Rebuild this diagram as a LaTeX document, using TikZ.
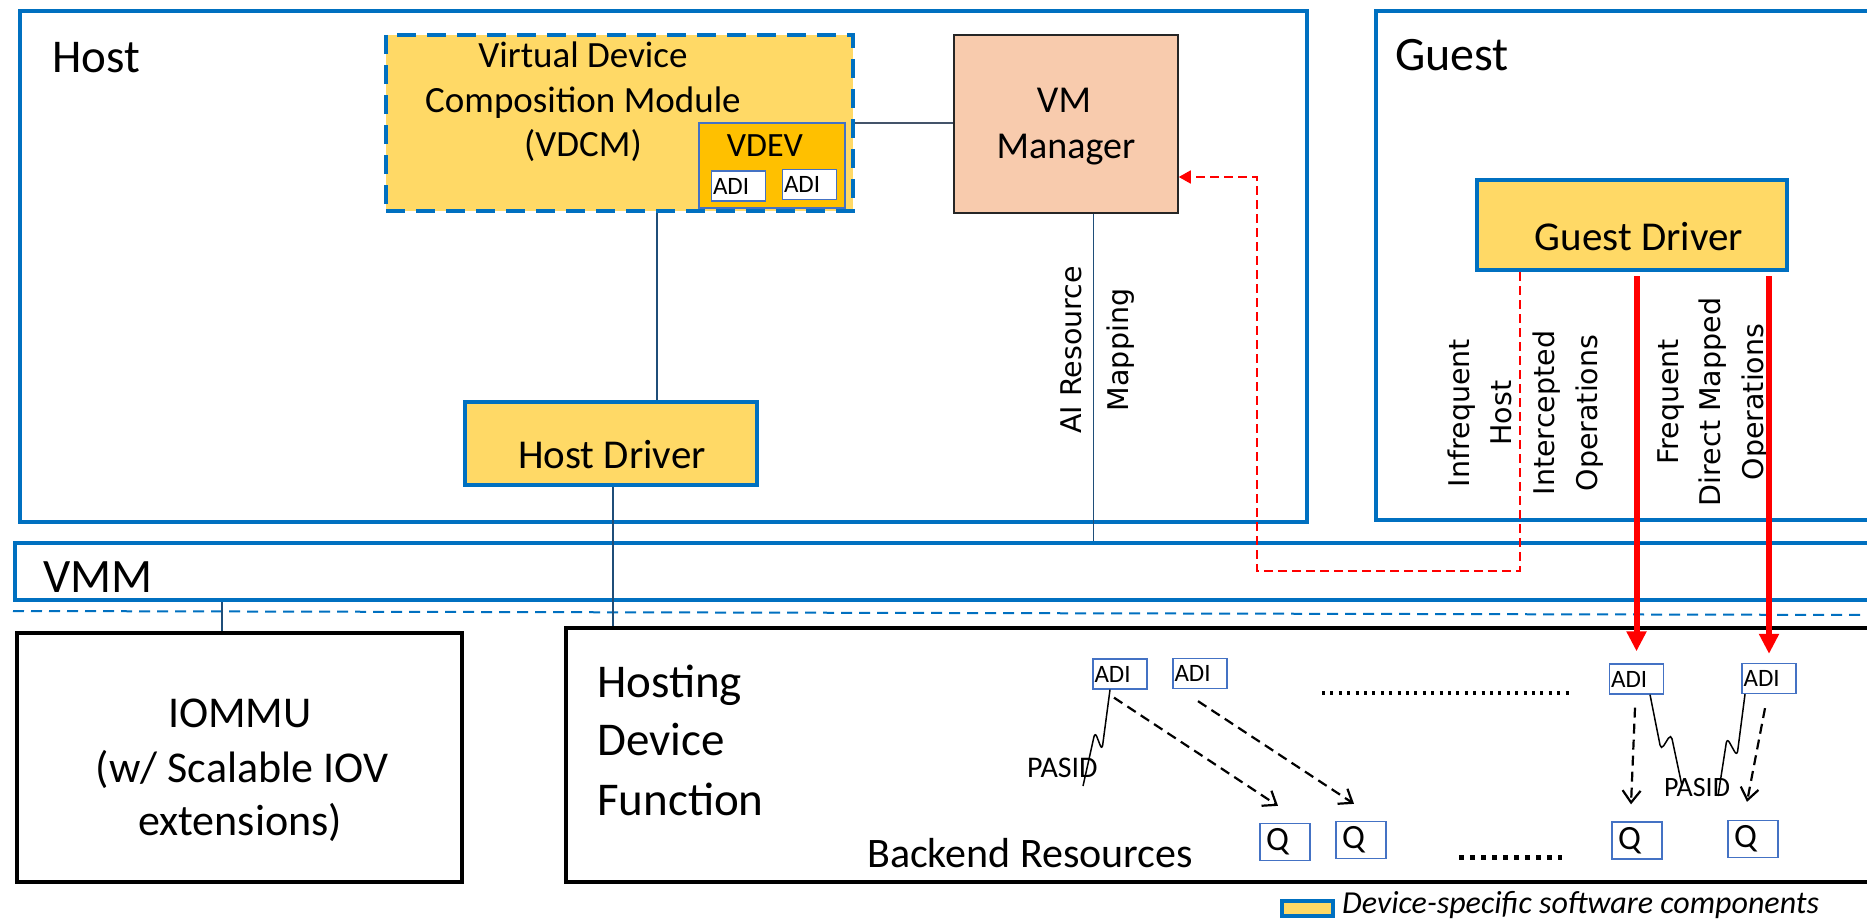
\documentclass[tikz,border=0pt]{standalone}
\usepackage{fontspec}
\setmainfont{Carlito}
\newfontfamily\dvs{DejaVu Sans}
\usetikzlibrary{arrows.meta}
\definecolor{oblue}{HTML}{0070C0}
\definecolor{ygold}{HTML}{FFD966}
\definecolor{vdevc}{HTML}{FFC000}
\definecolor{peach}{HTML}{F8CBAD}
\definecolor{lineblue}{HTML}{1F4E79}
\definecolor{thinblue}{HTML}{4472C4}
\definecolor{grayblue}{HTML}{44546A}
\newcommand\myfs[1]{\fontsize{#1}{#1}\selectfont}
\begin{document}
\begin{tikzpicture}[x=1pt,y=-1pt,
  region/.style={draw=oblue,line width=4.5pt,fill=white,inner sep=0pt},
  hwbox/.style={draw=black,line width=4.5pt,fill=white,inner sep=0pt},
  drvbox/.style={draw=oblue,line width=4.5pt,fill=ygold,inner sep=0pt},
  vdcmbox/.style={draw=oblue,line width=4.5pt,fill=ygold,inner sep=0pt,dash pattern=on 19pt off 11pt},
  vdevbox/.style={draw=thinblue,line width=1.5pt,fill=vdevc,inner sep=0pt},
  mgrbox/.style={draw=black!85,line width=1.5pt,fill=peach,inner sep=0pt},
  adibox/.style={draw=thinblue,line width=1.3pt,fill=white,inner xsep=1.5pt,inner ysep=0pt,text width=51pt,align=left,minimum height=30pt,font=\myfs{25}},
  qbox/.style={draw=thinblue,line width=1.3pt,fill=white,inner xsep=6pt,inner ysep=0pt,text width=38pt,align=left,minimum height=37pt,font=\myfs{34}},
  lbl/.style={inner sep=0pt,anchor=base},
  rlbl/.style={inner sep=0pt,anchor=base,rotate=90,font=\dvs\myfs{28.5}},
  conn/.style={draw=lineblue,line width=2pt},
  thinconn/.style={draw=lineblue,line width=1pt},
  redarrow/.style={draw=red,line width=6pt,-{Triangle[length=20pt,width=19pt]},shorten <=4pt},
  reddash/.style={draw=red,line width=1.8pt,dash pattern=on 9pt off 5pt,-{Triangle[length=12pt,width=13pt]}},
  qarrow/.style={draw=black,line width=2.2pt,dash pattern=on 10pt off 6pt,-{Straight Barb[length=12pt,width=18pt]}},
  pasid/.style={draw=black,line width=1.5pt,rounded corners=5pt},
  dotrow/.style={draw=black,dash pattern=on 3pt off 5.4pt},
  vmmsep/.style={draw=oblue,line width=2pt,dash pattern=on 11pt off 7pt},
]
\useasboundingbox (0,0) rectangle (1867,920);
\clip (0,0) rectangle (1867,920);

% regions
\node[region,minimum width=1287pt,minimum height=511pt] (host) at (663.5,266.5) {};
\node[region,minimum width=524pt,minimum height=509pt] (guest) at (1638,265.5) {};
\node[region,minimum width=1885pt,minimum height=57pt] (vmm) at (957.5,571.5) {};
\draw[vmmsep] (13,611) -- (1880,615);
\node[hwbox,minimum width=445pt,minimum height=249pt] (iommu) at (239.5,757.5) {};
\node[hwbox,minimum width=1334pt,minimum height=254pt] (hosting) at (1233,755) {};

% region labels
\node[lbl,anchor=base west,font=\myfs{47}] (hostlbl) at (52,73) {Host};
\node[lbl,anchor=base west,font=\myfs{48}] (guestlbl) at (1395,71) {Guest};
\node[lbl,anchor=base west,font=\myfs{48}] (vmmlbl) at (43,592) {VMM};

% host components
\node[vdcmbox,minimum width=467pt,minimum height=176pt] (vdcm) at (619.5,123) {};
\node[lbl,font=\myfs{37}] (vdcm1) at (583,68) {Virtual Device};
\node[lbl,font=\myfs{37}] (vdcm2) at (583,113) {Composition Module};
\node[lbl,font=\myfs{37}] (vdcm3) at (583,157) {(VDCM)};
\node[vdevbox,minimum width=146pt,minimum height=85pt] (vdev) at (772,165.5) {};
\node[lbl,font=\myfs{34}] (vdevlbl) at (765,157) {VDEV};
\node[adibox] (adiv1) at (738.5,186) {ADI};
\node[adibox] (adiv2) at (809.5,184.5) {ADI};

\node[mgrbox,minimum width=224pt,minimum height=178pt] (vmmgr) at (1066,124) {};
\node[lbl,font=\myfs{38}] (mgr1) at (1064,113) {VM};
\node[lbl,font=\myfs{38}] (mgr2) at (1066,159) {Manager};

\node[drvbox,minimum width=292pt,minimum height=83pt] (hostdrv) at (611,443.5) {};
\node[lbl,font=\myfs{41}] (hostdrvlbl) at (612,468) {Host Driver};

\node[drvbox,minimum width=310pt,minimum height=90pt] (guestdrv) at (1632,225) {};
\node[lbl,font=\myfs{41}] (guestdrvlbl) at (1639,250) {Guest Driver};

% rotated labels
\node[rlbl] (air1) at (1081,350) {AI Resource};
\node[rlbl] (air2) at (1128,350) {Mapping};
\node[rlbl] (inf1) at (1469,413) {Infrequent};
\node[rlbl] (inf2) at (1511,413) {Host};
\node[rlbl] (inf3) at (1554,413) {Intercepted};
\node[rlbl] (inf4) at (1597,413) {Operations};
\node[rlbl] (frq1) at (1678,402) {Frequent};
\node[rlbl] (frq2) at (1720,402) {Direct Mapped};
\node[rlbl] (frq3) at (1763,402) {Operations};

% hardware labels
\node[lbl,font=\myfs{44}] (io1) at (240,727) {IOMMU};
\node[lbl,font=\myfs{44}] (io2) at (242,782) {(w/ Scalable IOV};
\node[lbl,font=\myfs{44}] (io3) at (240,835) {extensions)};
\node[lbl,anchor=base west,font=\myfs{47}] (hd1) at (597,697) {Hosting};
\node[lbl,anchor=base west,font=\myfs{47}] (hd2) at (597,755) {Device};
\node[lbl,anchor=base west,font=\myfs{47}] (hd3) at (597,815) {Function};
\node[lbl,anchor=base west,font=\myfs{42}] (backend) at (867,867) {Backend Resources};

% device ADIs and queues
\node[adibox] (adia) at (1120,674) {ADI};
\node[adibox] (adib) at (1200,673.5) {ADI};
\node[adibox] (adic) at (1636.5,679) {ADI};
\node[adibox] (adid) at (1769,678.5) {ADI};
\node[qbox] (q1) at (1285,842) {Q};
\node[qbox] (q2) at (1361,840) {Q};
\node[qbox] (q3) at (1637,840.5) {Q};
\node[qbox] (q4) at (1753,839) {Q};
\draw[dotrow,line width=3.5pt] (1322,693) -- (1570,693);
\draw[dotrow,line width=5pt,dash pattern=on 4.5pt off 6.5pt] (1459,857) -- (1562,857);
\node[lbl,anchor=base west,font=\myfs{30}] (pasid1) at (1027,777) {PASID};
\node[lbl,anchor=base west,font=\myfs{28}] (pasid2) at (1664,796) {PASID};

% connectors
\draw[conn] ([xshift=37.5pt]vdcm.south) -- ([xshift=37.5pt]vdcm.south |- hostdrv.north);
\draw[conn] ([xshift=2pt]hostdrv.south) -- ([xshift=2pt]hostdrv.south |- hosting.north);
\draw[draw=grayblue,line width=2.5pt] (vdcm.east) -- (vdcm.east -| vmmgr.west);
\draw[thinconn] ([xshift=27pt]vmmgr.south) -- ([xshift=27pt]vmmgr.south |- vmm.north);
\draw[conn] ([xshift=-17.5pt]iommu.north) -- ([xshift=-17.5pt]iommu.north |- vmm.south);

\coordinate (rd1) at (1520,571);
\coordinate (rd2) at (1257,571);
\coordinate (rd3) at (1257,177);
\draw[reddash] (guestdrv.south -| rd1) -- (rd1) -- (rd2) -- (rd3) -- (rd3 -| vmmgr.east);
\draw[redarrow] (guestdrv.south -| adic.north) -- ([yshift=12pt]adic.north);
\draw[redarrow] (guestdrv.south -| adid.north) -- ([yshift=9pt]adid.north);

\draw[qarrow] ([xshift=-6pt,yshift=-8pt]adia.south) -- ([xshift=-7pt,yshift=17pt]q1.north);
\draw[qarrow] ([xshift=-2pt,yshift=-12pt]adib.south) -- ([xshift=-7pt,yshift=17pt]q2.north);
\draw[qarrow] ([xshift=-1.5pt,yshift=-13pt]adic.south) -- ([xshift=-6pt,yshift=17pt]q3.north);
\draw[qarrow] ([xshift=-4pt,yshift=-14pt]adid.south) -- ([xshift=-6pt,yshift=18pt]q4.north);

\draw[pasid] ([xshift=-10pt]adia.south) -- (1102,750) -- (1095,732) -- (1083,786);
\draw[pasid] ([xshift=13.5pt]adic.south) -- (1661,750) -- (1671,734) -- (1682,786);
\draw[pasid] ([xshift=-24pt]adid.south) -- (1737,756) -- (1727,738) -- (1718,796);

% legend
\node[drvbox,line width=4pt,minimum width=51pt,minimum height=15pt] (legbox) at (1307.5,908.5) {};
\node[lbl,anchor=base west,font=\itshape\myfs{32}] (legtxt) at (1342,913) {Device-specific software components};
\end{tikzpicture}
\end{document}
